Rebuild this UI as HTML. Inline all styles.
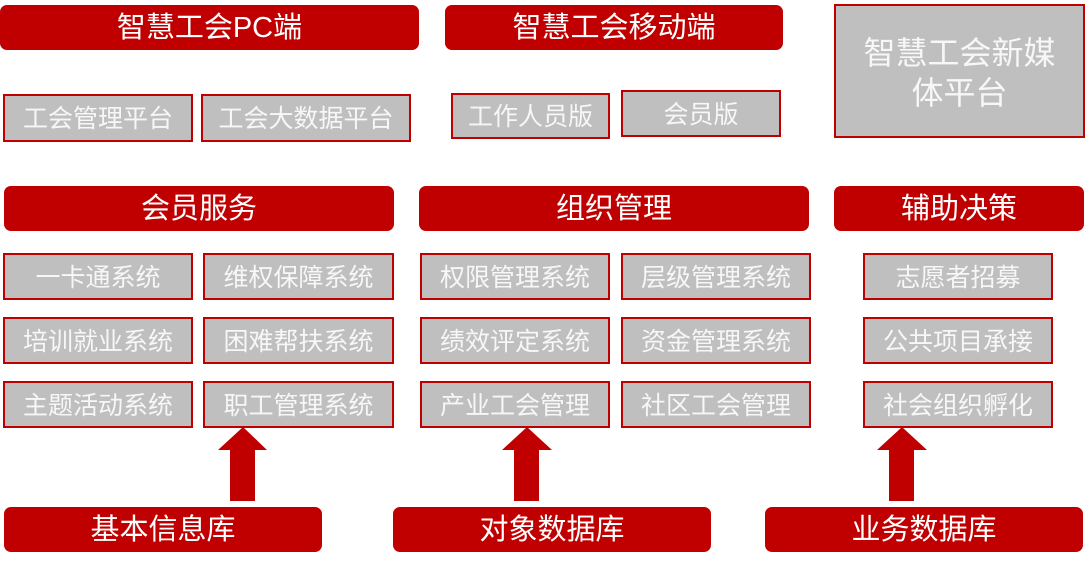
<!DOCTYPE html>
<html><head><meta charset="utf-8"><style>
html,body{margin:0;padding:0;background:#fff;}
body{width:1085px;height:564px;position:relative;overflow:hidden;font-family:"Liberation Sans","Noto Sans CJK SC",sans-serif;}
.r{position:absolute;box-sizing:border-box;padding-top:2px;background:#c00000;border-radius:7px;color:#fff;display:flex;align-items:center;justify-content:center;font-size:29px;line-height:1;white-space:nowrap;}
.g{position:absolute;box-sizing:border-box;padding-top:3px;background:#bfbfbf;border:2px solid #c00000;color:#f7f7f7;display:flex;align-items:center;justify-content:center;font-size:25px;line-height:1;white-space:nowrap;}
.h{font-size:29px;}
</style></head><body>
<div class="r" style="left:0;top:5px;width:419px;height:45px;">智慧工会PC端</div>
<div class="r" style="left:445px;top:5px;width:338px;height:45px;">智慧工会移动端</div>
<div class="g" style="left:834px;top:4px;width:251px;height:134px;font-size:32px;line-height:40px;text-align:center;white-space:normal;padding:3px 20px 0;">智慧工会新媒体平台</div>

<div class="g" style="left:3px;top:94px;width:190px;height:48px;">工会管理平台</div>
<div class="g" style="left:201px;top:94px;width:210px;height:48px;">工会大数据平台</div>
<div class="g" style="left:451px;top:93px;width:159px;height:46px;">工作人员版</div>
<div class="g" style="left:621px;top:90px;width:160px;height:47px;">会员版</div>

<div class="r h" style="left:4px;top:186px;width:390px;height:45px;">会员服务</div>
<div class="r h" style="left:419px;top:186px;width:390px;height:45px;">组织管理</div>
<div class="r h" style="left:834px;top:186px;width:250px;height:45px;">辅助决策</div>

<div class="g" style="left:3px;top:253px;width:190px;height:47px;">一卡通系统</div>
<div class="g" style="left:203px;top:253px;width:191px;height:47px;">维权保障系统</div>
<div class="g" style="left:3px;top:317px;width:190px;height:47px;">培训就业系统</div>
<div class="g" style="left:203px;top:317px;width:191px;height:47px;">困难帮扶系统</div>
<div class="g" style="left:3px;top:381px;width:190px;height:47px;">主题活动系统</div>
<div class="g" style="left:203px;top:381px;width:191px;height:47px;">职工管理系统</div>

<div class="g" style="left:420px;top:253px;width:190px;height:47px;">权限管理系统</div>
<div class="g" style="left:621px;top:253px;width:190px;height:47px;">层级管理系统</div>
<div class="g" style="left:420px;top:317px;width:190px;height:47px;">绩效评定系统</div>
<div class="g" style="left:621px;top:317px;width:190px;height:47px;">资金管理系统</div>
<div class="g" style="left:420px;top:381px;width:190px;height:47px;">产业工会管理</div>
<div class="g" style="left:621px;top:381px;width:190px;height:47px;">社区工会管理</div>

<div class="g" style="left:863px;top:253px;width:190px;height:47px;">志愿者招募</div>
<div class="g" style="left:863px;top:317px;width:190px;height:47px;">公共项目承接</div>
<div class="g" style="left:863px;top:381px;width:190px;height:47px;">社会组织孵化</div>

<svg style="position:absolute;left:0;top:0" width="1085" height="564">
<polygon fill="#c00000" points="243,427 267,450 255,450 255,501 230,501 230,450 218,450"/>
<polygon fill="#c00000" points="527,427 552,450 539,450 539,501 514,501 514,450 502,450"/>
<polygon fill="#c00000" points="902,427 927,450 914,450 914,501 889,501 889,450 877,450"/>
</svg>

<div class="r h" style="left:4px;top:507px;width:318px;height:45px;">基本信息库</div>
<div class="r h" style="left:393px;top:507px;width:318px;height:45px;">对象数据库</div>
<div class="r h" style="left:765px;top:507px;width:318px;height:45px;">业务数据库</div>
</body></html>
